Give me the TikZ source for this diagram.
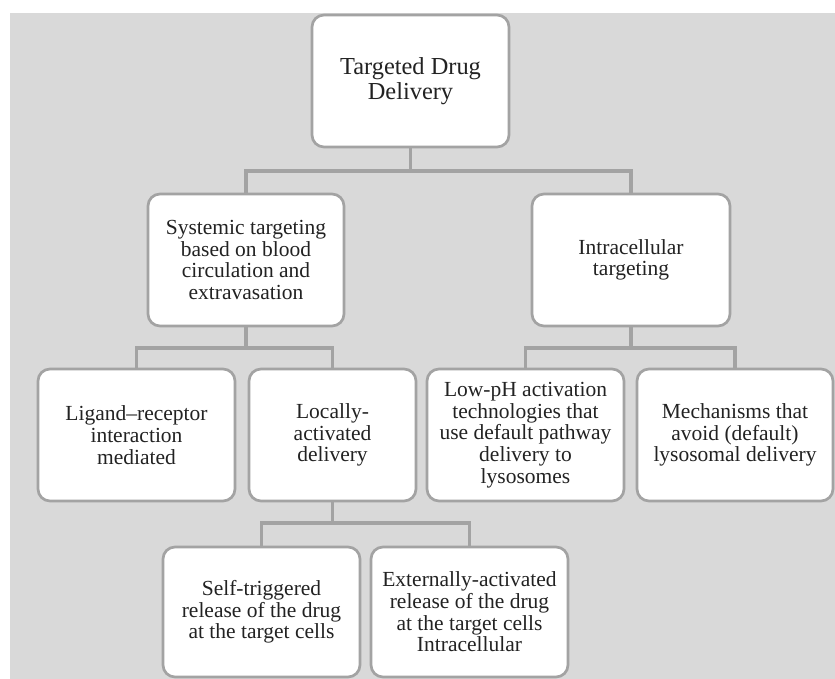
\documentclass[tikz,border=0pt]{standalone}
\usepackage{fontspec}
\setmainfont{Liberation Serif}
\definecolor{bggray}{HTML}{D9D9D9}
\definecolor{linegray}{HTML}{A3A3A3}
\definecolor{txt}{HTML}{222222}
\tikzset{
  box/.style={draw=linegray, line width=2.7pt, fill=white, rounded corners=12pt,
    minimum height=132pt, inner sep=0pt, align=center, text=txt,
    font=\fontsize{21.5}{21.7}\selectfont},
  rootbox/.style={box, font=\fontsize{24.4}{24.5}\selectfont},
  conn/.style={draw=linegray, line width=3.3pt}
}
\begin{document}
\begin{tikzpicture}[x=1pt,y=-1pt]
\useasboundingbox (0,0) rectangle (835,679);
\fill[bggray] (10,13) rectangle (835,679);
% junction levels
\coordinate (j1) at (0,171);
\coordinate (j2) at (0,348);
\coordinate (j3) at (0,523);
% nodes
\node[rootbox, minimum width=197pt] (root) at (410.5,81) {Targeted Drug\\Delivery};
\node[box, minimum width=196pt] (sys) at (246,260) {Systemic targeting\\based on blood\\circulation and\\extravasation};
\node[box, minimum width=198pt] (intra) at (631,260) {Intracellular\\targeting};
\node[box, minimum width=197pt] (lig) at (136.5,435) {Ligand--receptor\\interaction\\mediated};
\node[box, minimum width=167pt] (loc) at (332.5,435) {Locally-\\activated\\delivery};
\node[box, minimum width=197pt] (lowph) at (525.5,435) {Low-pH activation\\technologies that\\use default pathway\\delivery to\\lysosomes};
\node[box, minimum width=196pt] (mech) at (735,435) {Mechanisms that\\avoid (default)\\lysosomal delivery};
\node[box, minimum width=197pt, minimum height=130pt] (self) at (261.5,612) {Self-triggered\\release of the drug\\at the target cells};
\node[box, minimum width=197pt, minimum height=130pt] (ext) at (469.5,612) {Externally-activated\\release of the drug\\at the target cells\\Intracellular};
% connectors
\draw[conn] (root.south) -- (root.south |- j1) -| (sys.north);
\draw[conn] (root.south |- j1) -| (intra.north);
\draw[conn] (sys.south) -- (sys.south |- j2) -| (lig.north);
\draw[conn] (sys.south |- j2) -| (loc.north);
\draw[conn] (intra.south) -- (intra.south |- j2) -| (lowph.north);
\draw[conn] (intra.south |- j2) -| (mech.north);
\draw[conn] (loc.south) -- (loc.south |- j3) -| (self.north);
\draw[conn] (loc.south |- j3) -| (ext.north);
\end{tikzpicture}
\end{document}
